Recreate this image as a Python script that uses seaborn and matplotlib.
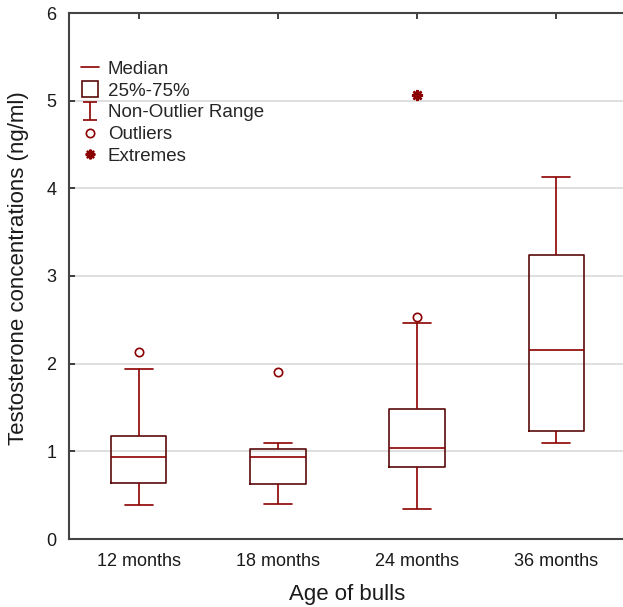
import numpy as np
import pandas as pd
import matplotlib
matplotlib.use("Agg")
import matplotlib.pyplot as plt
from matplotlib.lines import Line2D
from matplotlib.path import Path
import seaborn as sns

# five-number summaries (ng/ml)
groups = ["12 months", "18 months", "24 months", "36 months"]
whisker_low = [0.39, 0.40, 0.34, 1.09]
q1 = [0.64, 0.63, 0.82, 1.23]
median = [0.93, 0.93, 1.04, 2.16]
q3 = [1.18, 1.03, 1.48, 3.24]
whisker_high = [1.94, 1.10, 2.46, 4.13]

outlier_groups = ["12 months", "18 months", "24 months"]
outlier_values = [2.13, 1.91, 2.53]
extreme_groups = ["24 months"]
extreme_values = [5.06]

line_c = "#8b0000"
box_c = "#5a0a0a"

# long table: one row per summary value, percentiles at 25/50/75 hit q1/median/q3
rows = []
for i, g in enumerate(groups):
    for v in [whisker_low[i], q1[i], median[i], q3[i], whisker_high[i]]:
        rows.append({"Age": g, "Testosterone": v})
df = pd.DataFrame(rows)

sns.set_style("white")
plt.rcParams["font.family"] = ["Liberation Sans", "DejaVu Sans"]

fig = plt.figure(figsize=(6.23, 6.07), dpi=100)
ax = fig.add_axes([69 / 623, 1 - 539 / 607, 557 / 623, 526 / 607])

sns.boxplot(data=df, x="Age", y="Testosterone", order=groups, ax=ax,
            fill=False, color=line_c, saturation=1, width=0.4,
            whis=(0, 100), showfliers=False, linewidth=1.2,
            boxprops={"color": box_c})

# outliers and extremes at the category positions
ox = [groups.index(g) for g in outlier_groups]
ax.plot(ox, outlier_values, linestyle="none", marker="o", markersize=6,
        markerfacecolor="none", markeredgecolor=line_c, markeredgewidth=1.2)
ex = [groups.index(g) for g in extreme_groups]
ax.plot(ex, extreme_values, linestyle="none", marker=(8, 2, 0), markersize=8,
        markeredgecolor=line_c, markeredgewidth=1.8)

ax.set_ylim(0, 6)
ax.set_xlim(-0.5, 3.5)
ax.set_yticks(range(0, 7))
ax.yaxis.grid(True, color="#dcdcdc", linewidth=1.3)
ax.set_axisbelow(True)

for side in ["left", "bottom", "top"]:
    ax.spines[side].set_visible(True)
    ax.spines[side].set_color("#444444")
    ax.spines[side].set_linewidth(1.5)
ax.spines["right"].set_visible(False)
ax.tick_params(axis="both", direction="in", length=4, width=1.2,
               color="#222222", labelsize=13, labelcolor="#1a1a1a")
ax.tick_params(axis="x", top=True, pad=10)
ax.tick_params(axis="y", left=True, pad=9)

ax.set_xlabel("Age of bulls", fontsize=16, labelpad=10, color="#1a1a1a")
ax.set_ylabel("Testosterone concentrations (ng/ml)", fontsize=16,
              color="#1a1a1a")
ax.yaxis.set_label_coords(-0.072, 0.515)

# legend with box-plot glyphs
ibeam = Path([(-0.8, 1), (0.8, 1), (0, 1), (0, -1), (-0.8, -1), (0.8, -1)],
             [Path.MOVETO, Path.LINETO, Path.MOVETO, Path.LINETO,
              Path.MOVETO, Path.LINETO])
handles = [
    Line2D([], [], color=line_c, linewidth=1.2),
    Line2D([], [], linestyle="none", marker="s", markersize=12,
           markerfacecolor="none", markeredgecolor=box_c, markeredgewidth=1.2),
    Line2D([], [], linestyle="none", marker=ibeam, markersize=13,
           markerfacecolor="none", markeredgecolor=line_c, markeredgewidth=1.2),
    Line2D([], [], linestyle="none", marker="o", markersize=6,
           markerfacecolor="none", markeredgecolor=line_c, markeredgewidth=1.2),
    Line2D([], [], linestyle="none", marker=(8, 2, 0), markersize=7,
           markeredgecolor=line_c, markeredgewidth=1.6),
]
labels = ["Median", "25%-75%", "Non-Outlier Range", "Outliers", "Extremes"]
ax.legend(handles, labels, loc="upper left", bbox_to_anchor=(-0.013, 0.945),
          frameon=False, fontsize=13.5, handlelength=1.0, handletextpad=0.45,
          labelspacing=0.25, borderaxespad=0.6)

fig.savefig("out.png", dpi=100)
